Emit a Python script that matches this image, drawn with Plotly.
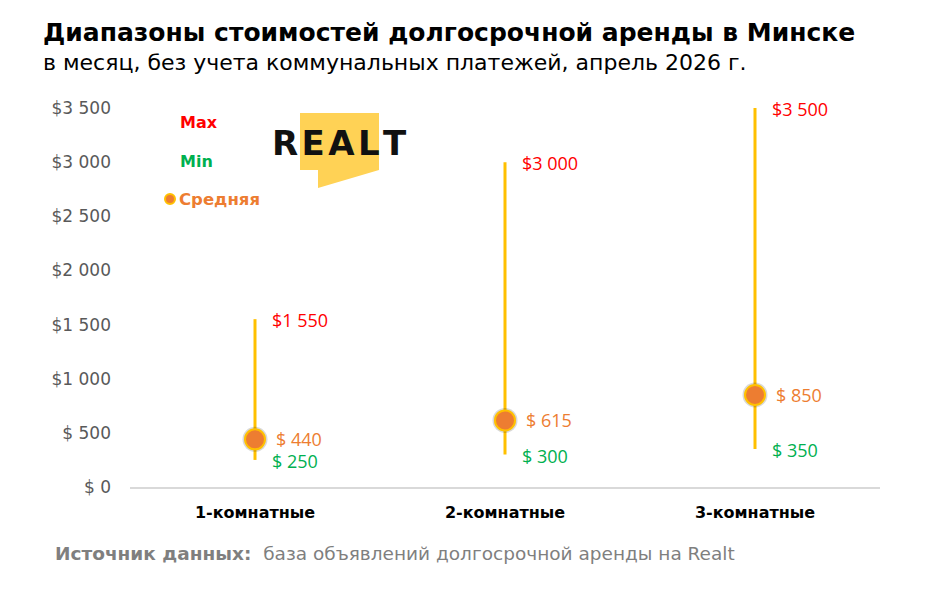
import plotly.graph_objects as go

categories = ["1-комнатные", "2-комнатные", "3-комнатные"]
max_vals = [1550, 3000, 3500]
min_vals = [250, 300, 350]
mean_vals = [440, 615, 850]
max_labels = ["$1 550", "$3 000", "$3 500"]
min_labels = ["$ 250", "$ 300", "$ 350"]
mean_labels = ["$ 440", "$ 615", "$ 850"]
tick_vals = [0, 500, 1000, 1500, 2000, 2500, 3000, 3500]
tick_text = ["$ 0", "$ 500", "$1 000", "$1 500", "$2 000", "$2 500", "$3 000", "$3 500"]

OFF = 8  # default page body margin
W, H = 926 - OFF, 589 - OFF
ML, MT = 130 - OFF, 87 - OFF
MR = W - (880 - OFF)
MB = H - (487 - OFF)
PW, PH = W - ML - MR, H - MT - MB

def px(x):
    return (x - OFF - ML) / PW

def py(y):
    return (H - MB - (y - OFF)) / PH

FONT = "DejaVu Sans"
NUMFONT = "Open Sans"
RED, GREEN, ORANGE, GOLD = "#FF0000", "#00B050", "#ED7D31", "#FFC000"

fig = go.Figure()
xs = list(range(len(categories)))
for i in xs:
    fig.add_trace(go.Scatter(x=[i, i], y=[min_vals[i], max_vals[i]], mode="lines",
                             line=dict(color=GOLD, width=3), hoverinfo="skip", showlegend=False))
# shadow halo
fig.add_trace(go.Scatter(x=xs, y=mean_vals, mode="markers",
                         marker=dict(size=25, color="rgba(0,0,0,0.15)", line=dict(width=0)),
                         hoverinfo="skip", showlegend=False))
fig.add_trace(go.Scatter(x=xs, y=mean_vals, mode="markers",
                         marker=dict(size=20, color=ORANGE, line=dict(color=GOLD, width=2)),
                         showlegend=False))

for i in xs:
    fig.add_annotation(x=i, y=max_vals[i], text=max_labels[i], showarrow=False, xanchor="left",
                       yanchor="middle", xshift=15, yshift=-1, font=dict(color=RED, size=18, family=NUMFONT))
    fig.add_annotation(x=i, y=min_vals[i], text=min_labels[i], showarrow=False, xanchor="left",
                       yanchor="middle", xshift=15, yshift=-1, font=dict(color=GREEN, size=18, family=NUMFONT))
    fig.add_annotation(x=i, y=mean_vals[i], text=mean_labels[i], showarrow=False, xanchor="left",
                       yanchor="middle", xshift=19, font=dict(color=ORANGE, size=18, family=NUMFONT))

# legend
fig.add_annotation(xref="paper", yref="paper", x=px(178), y=py(123), text="<b>Max</b>", showarrow=False,
                   xanchor="left", yanchor="middle", font=dict(color=RED, size=16, family=FONT))
fig.add_annotation(xref="paper", yref="paper", x=px(178), y=py(161), text="<b>Min</b>", showarrow=False,
                   xanchor="left", yanchor="middle", font=dict(color=GREEN, size=16, family=FONT))
fig.add_annotation(xref="paper", yref="paper", x=px(177), y=py(199), text="<b>Средняя</b>", showarrow=False,
                   xanchor="left", yanchor="middle", font=dict(color=ORANGE, size=16.5, family=FONT))
fig.add_shape(type="circle", xref="paper", yref="paper", xsizemode="pixel", ysizemode="pixel",
              xanchor=px(170), yanchor=py(199), x0=-5, x1=5, y0=-5, y1=5,
              fillcolor=ORANGE, line=dict(color=GOLD, width=2))

# logo
pts = [(300, 113), (379, 113), (379, 170), (318, 188), (318, 170), (300, 170)]
path = "M " + " L ".join(f"{px(a)},{py(b)}" for a, b in pts) + " Z"
fig.add_shape(type="path", xref="paper", yref="paper", path=path, fillcolor="#FFD255", line=dict(width=0),
              layer="below")
fig.add_annotation(xref="paper", yref="paper", x=px(339), y=py(143), text="<b>R\u200aE\u200aA\u200aL\u200aT</b>",
                   showarrow=False, xanchor="center", yanchor="middle",
                   font=dict(color="#111111", size=34, family="DejaVu Sans"))

# title & subtitle
fig.add_annotation(xref="paper", yref="paper", x=px(41), y=py(32), text="<b>Диапазоны стоимостей долгосрочной аренды в Минске</b>",
                   showarrow=False, xanchor="left", yanchor="middle", font=dict(color="#000000", size=25, family=FONT))
fig.add_annotation(xref="paper", yref="paper", x=px(41), y=py(63), text="в месяц, без учета коммунальных платежей, апрель 2026 г.",
                   showarrow=False, xanchor="left", yanchor="middle", font=dict(color="#000000", size=22, family=FONT))
fig.add_annotation(xref="paper", yref="paper", x=px(53), y=py(553),
                   text="<b>Источник данных:</b>  база объявлений долгосрочной аренды на Realt",
                   showarrow=False, xanchor="left", yanchor="middle", font=dict(color="#7F7F7F", size=18.5, family=FONT))

fig.update_layout(
    width=W, height=H, margin=dict(l=ML, r=MR, t=MT, b=MB),
    plot_bgcolor="white", paper_bgcolor="white",
    xaxis=dict(range=[-0.5, 2.5], tickvals=xs, ticktext=[f"<b>{c}</b>" for c in categories],
               showgrid=False, zeroline=False, showline=True, linecolor="#D9D9D9", linewidth=1.5,
               ticks="", ticklabelstandoff=10,
               tickfont=dict(size=16, color="#000000", family=FONT), fixedrange=True),
    yaxis=dict(range=[0, PH / (379 / 3500)], tickvals=tick_vals, ticktext=tick_text, showgrid=False,
               zeroline=False, showline=False, ticks="", ticklabelstandoff=18,
               tickfont=dict(size=17, color="#595959", family=FONT), fixedrange=True),
    showlegend=False,
)

fig.write_html("out.html")
